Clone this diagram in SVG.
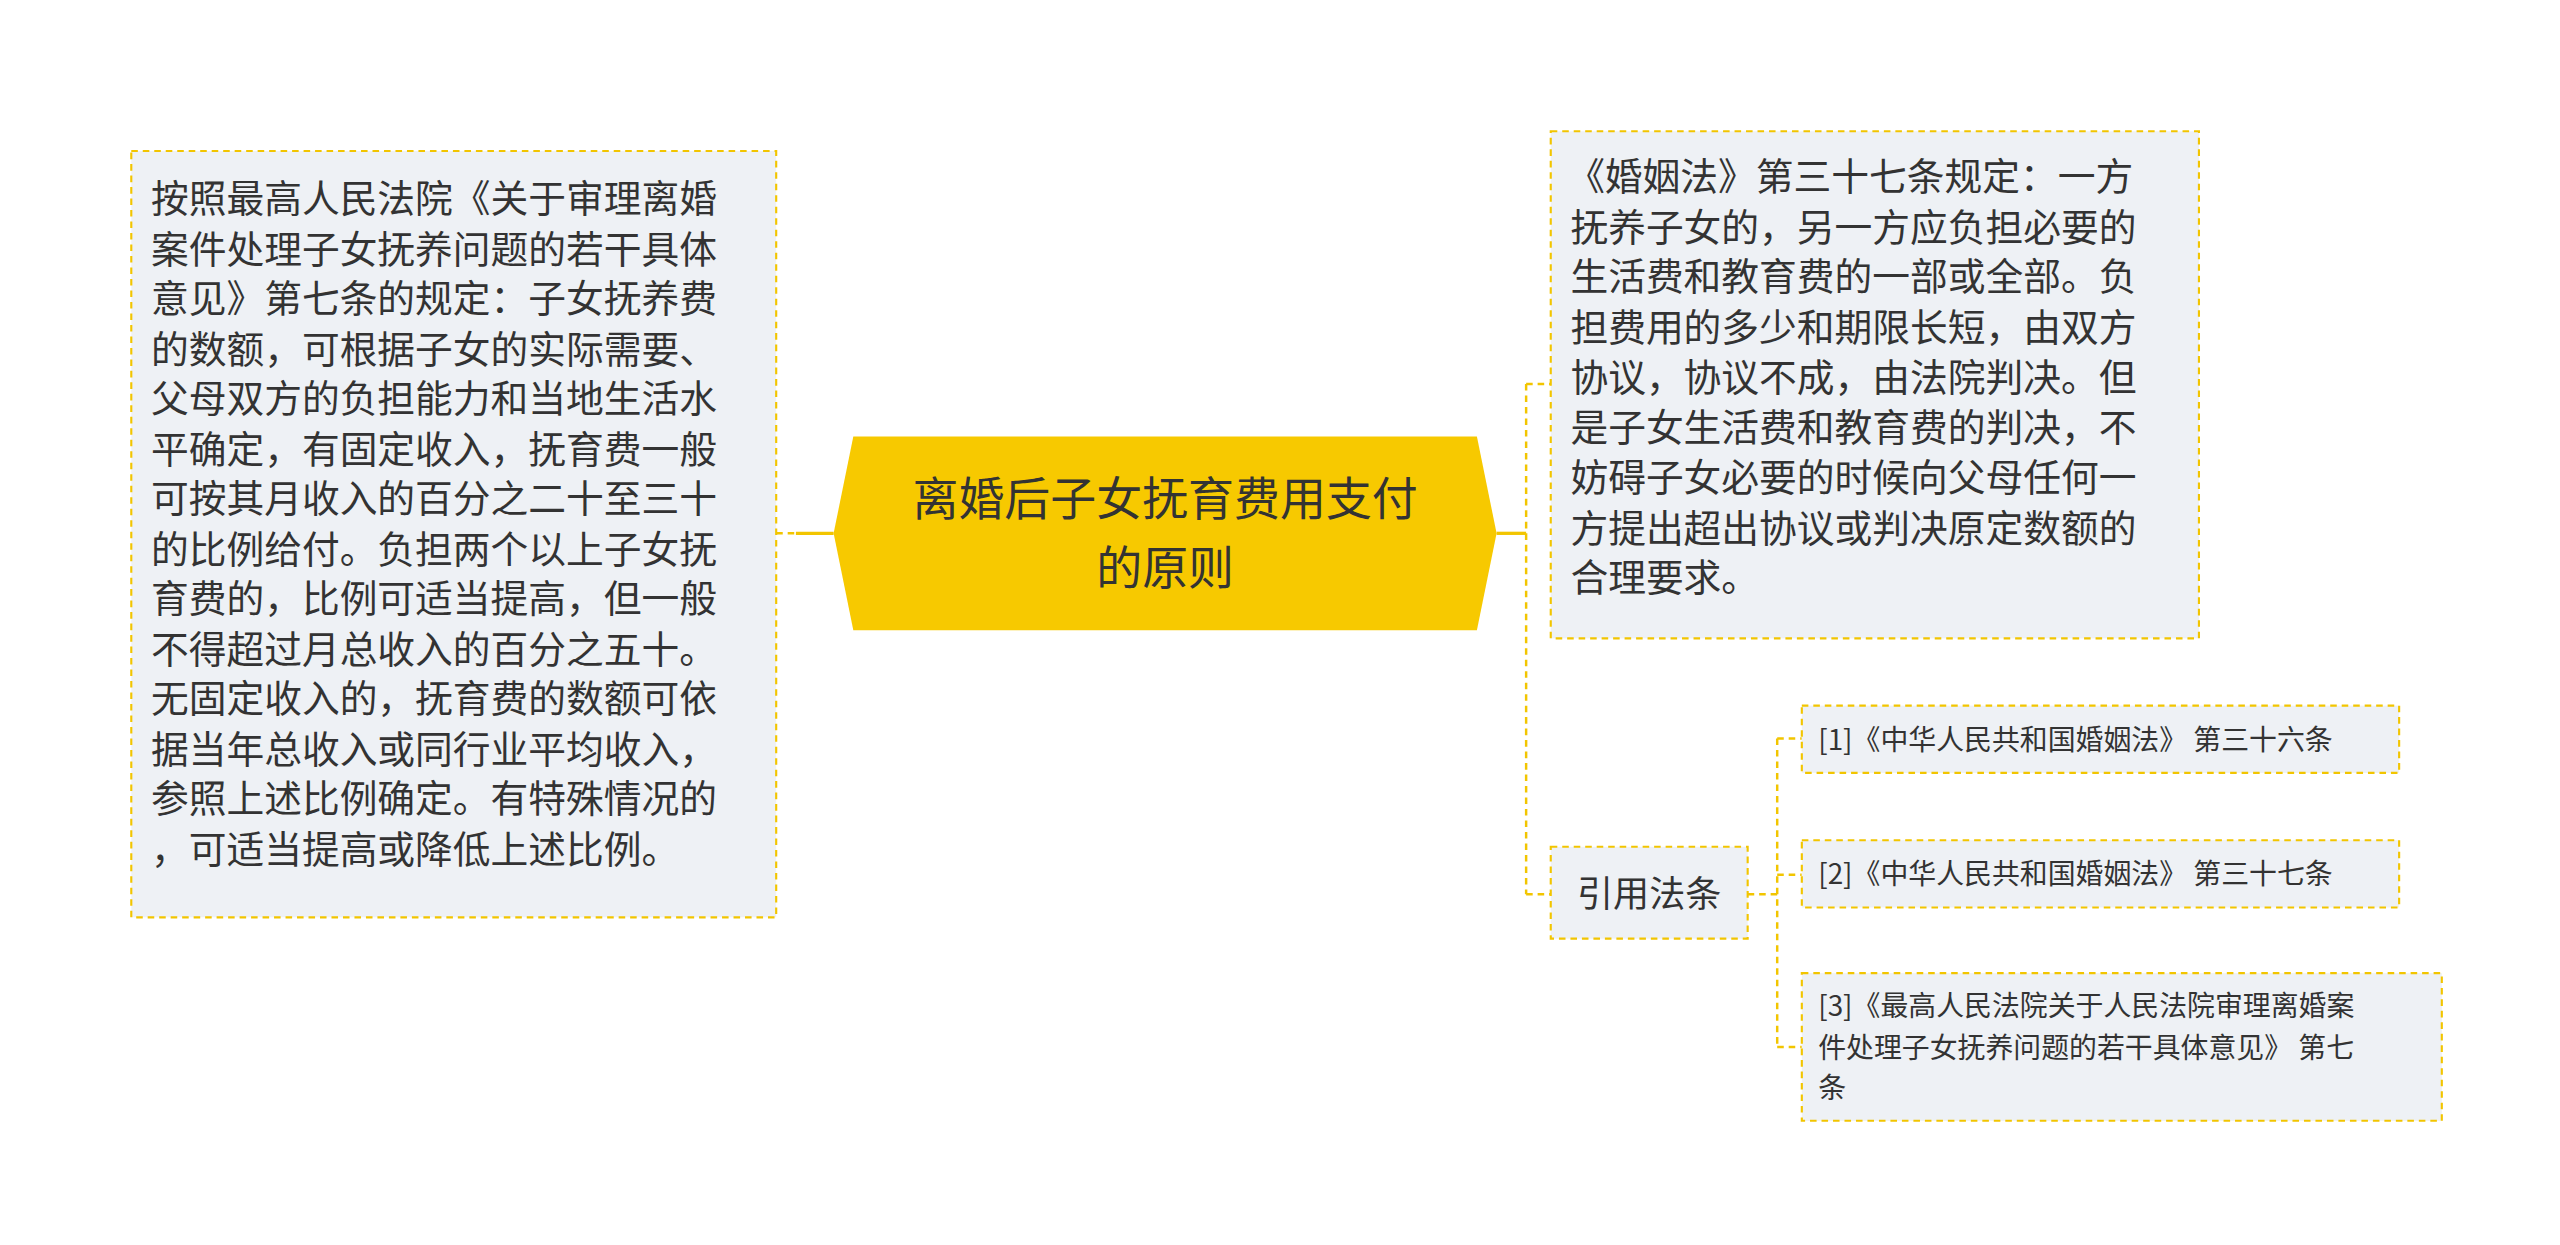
<svg xmlns="http://www.w3.org/2000/svg" width="2560" height="1245" viewBox="0 0 2560 1245">
<style>
.box{fill:#eef1f5;stroke:#f2c500;stroke-width:1.3;stroke-dasharray:4 3}
.t{font-family:"Noto Sans CJK SC","Noto Sans",sans-serif;fill:#333}
.c{fill:none;stroke:#f2c500;stroke-width:1.5;stroke-dasharray:4 3}
.s{fill:none;stroke:#f2c500;stroke-width:2}
</style>
<rect width="2560" height="1245" fill="#fff"/>
<g transform="scale(1.641)">
<g id="connectors">
<line class="c" x1="473" y1="325" x2="485" y2="325"/>
<line class="s" x1="485" y1="325" x2="508" y2="325"/>
<line class="s" x1="912" y1="325" x2="930" y2="325"/>
<path class="c" d="M930 234 V545 M930 234 H945 M930 545 H945"/>
<path class="c" d="M1065 545 H1083 M1083 450 V638 M1083 450 H1098 M1083 533 H1098 M1083 638 H1098"/>
</g>
<g id="center">
<polygon points="508,325 520,266 900,266 912,325 900,384 520,384" fill="#f7c900"/>
<text class="t" font-size="28" text-anchor="middle" fill="#333"><tspan x="710" y="314">离婚后子女抚育费用支付</tspan><tspan x="710" y="356">的原则</tspan></text>
</g>
<g id="left">
<rect class="box" x="80" y="92" width="393" height="467"/>
<text class="t" font-size="23"><tspan x="92" y="129">按照最高人民法院《关于审理离婚</tspan><tspan x="92" y="160">案件处理子女抚养问题的若干具体</tspan><tspan x="92" y="190">意见》第七条的规定：子女抚养费</tspan><tspan x="92" y="221">的数额，可根据子女的实际需要、</tspan><tspan x="92" y="251">父母双方的负担能力和当地生活水</tspan><tspan x="92" y="282">平确定，有固定收入，抚育费一般</tspan><tspan x="92" y="312">可按其月收入的百分之二十至三十</tspan><tspan x="92" y="343">的比例给付。负担两个以上子女抚</tspan><tspan x="92" y="373">育费的，比例可适当提高，但一般</tspan><tspan x="92" y="404">不得超过月总收入的百分之五十。</tspan><tspan x="92" y="434">无固定收入的，抚育费的数额可依</tspan><tspan x="92" y="465">据当年总收入或同行业平均收入，</tspan><tspan x="92" y="495">参照上述比例确定。有特殊情况的</tspan><tspan x="92" y="526">，可适当提高或降低上述比例。</tspan></text>
</g>
<g id="right1">
<rect class="box" x="945" y="80" width="395" height="309"/>
<text class="t" font-size="23"><tspan x="955" y="116">《婚姻法》第三十七条规定：一方</tspan><tspan x="957" y="147">抚养子女的，另一方应负担必要的</tspan><tspan x="957" y="177">生活费和教育费的一部或全部。负</tspan><tspan x="957" y="208">担费用的多少和期限长短，由双方</tspan><tspan x="957" y="238">协议，协议不成，由法院判决。但</tspan><tspan x="957" y="269">是子女生活费和教育费的判决，不</tspan><tspan x="957" y="299">妨碍子女必要的时候向父母任何一</tspan><tspan x="957" y="330">方提出超出协议或判决原定数额的</tspan><tspan x="957" y="360">合理要求。</tspan></text>
</g>
<g id="cite">
<rect class="box" x="945" y="516" width="120" height="56"/>
<text class="t" font-size="22" x="1005" y="553" text-anchor="middle">引用法条</text>
</g>
<g id="ref1">
<rect class="box" x="1098" y="430" width="364" height="41"/>
<text class="t" font-size="17" x="1108" y="457">[1]《中华人民共和国婚姻法》 第三十六条</text>
</g>
<g id="ref2">
<rect class="box" x="1098" y="512" width="364" height="41"/>
<text class="t" font-size="17" x="1108" y="539">[2]《中华人民共和国婚姻法》 第三十七条</text>
</g>
<g id="ref3">
<rect class="box" x="1098" y="593" width="390" height="90"/>
<text class="t" font-size="17"><tspan x="1108" y="619">[3]《最高人民法院关于人民法院审理离婚案</tspan><tspan x="1108" y="645">件处理子女抚养问题的若干具体意见》 第七</tspan><tspan x="1108" y="669">条</tspan></text>
</g>
</g>
</svg>
